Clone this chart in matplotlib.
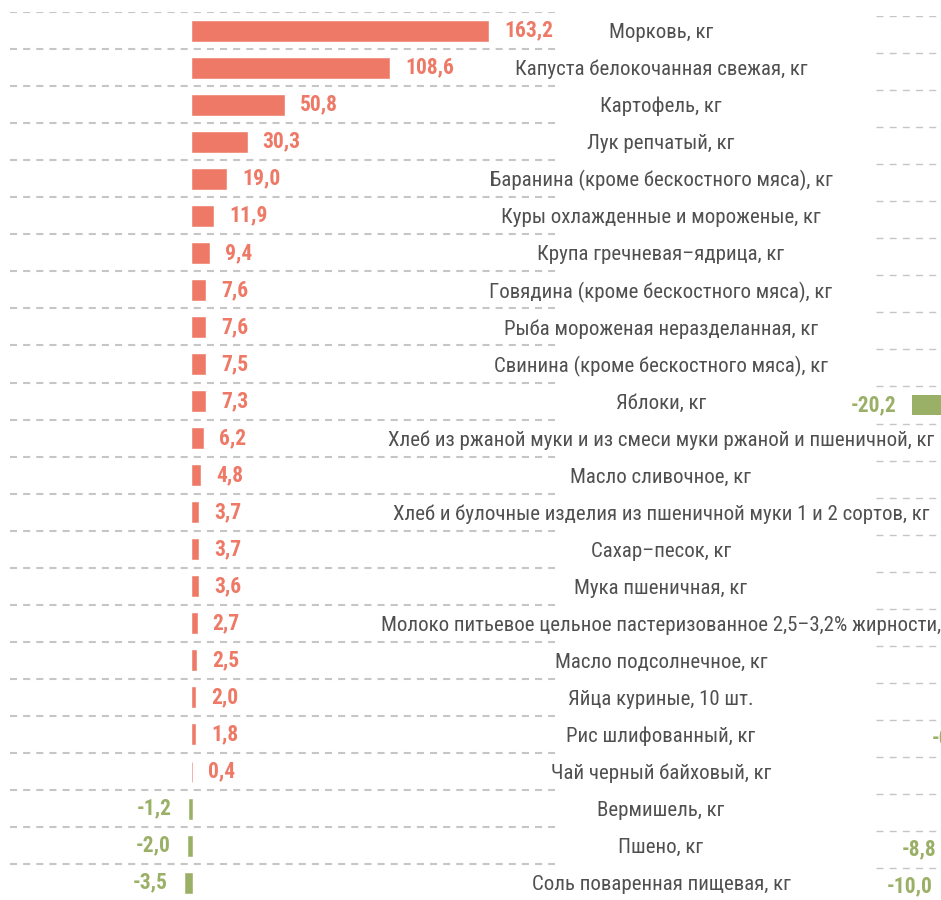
import matplotlib
matplotlib.use("Agg")
import matplotlib.pyplot as plt
from matplotlib import font_manager
from matplotlib.transforms import blended_transform_factory
import numpy as np

categories = [
    "Морковь, кг",
    "Капуста белокочанная свежая, кг",
    "Картофель, кг",
    "Лук репчатый, кг",
    "Баранина (кроме бескостного мяса), кг",
    "Куры охлажденные и мороженые, кг",
    "Крупа гречневая–ядрица, кг",
    "Говядина (кроме бескостного мяса), кг",
    "Рыба мороженая неразделанная, кг",
    "Свинина (кроме бескостного мяса), кг",
    "Яблоки, кг",
    "Хлеб из ржаной муки и из смеси муки ржаной и пшеничной, кг",
    "Масло сливочное, кг",
    "Хлеб и булочные изделия из пшеничной муки 1 и 2 сортов, кг",
    "Сахар–песок, кг",
    "Мука пшеничная, кг",
    "Молоко питьевое цельное пастеризованное 2,5–3,2% жирности,",
    "Масло подсолнечное, кг",
    "Яйца куриные, 10 шт.",
    "Рис шлифованный, кг",
    "Чай черный байховый, кг",
    "Вермишель, кг",
    "Пшено, кг",
    "Соль поваренная пищевая, кг",
]
values_left = [163.2, 108.6, 50.8, 30.3, 19.0, 11.9, 9.4, 7.6, 7.6, 7.5, 7.3, 6.2,
               4.8, 3.7, 3.7, 3.6, 2.7, 2.5, 2.0, 1.8, 0.4, -1.2, -2.0, -3.5]
# second panel, mostly outside the visible area
values_right = [np.nan] * 10 + [-20.2] + [np.nan] * 8 + [-0.1, np.nan, np.nan, -8.8, -10.0]

RED = "#ee7966"
GREEN = "#9bb067"
GRID = "#c6c6c6"
TXT = "#505050"

names = {f.name for f in font_manager.fontManager.ttflist}
narrow = None
for cand in ["Liberation Sans Narrow", "Roboto Condensed", "Open Sans Condensed", "Noto Sans"]:
    if cand in names:
        narrow = cand
        break
if narrow is None:
    narrow = "DejaVu Sans"

W, H = 941, 900
fig = plt.figure(figsize=(W / 100, H / 100), dpi=100)

n = len(categories)
row_px = 37.05
top_px = 12
ax_h = n * row_px
ax = fig.add_axes([10 / W, (H - top_px - ax_h) / H, 545 / W, ax_h / H])
ax.set_xlim(-100, 200)
ax.set_ylim(n - 0.5, -0.5)
ax.axis("off")

y = np.arange(n)
for k in range(n):
    ax.axhline(k - 0.5, color=GRID, lw=1.5, ls=(0, (3.4, 2.9)), zorder=0)

cols = [RED if v >= 0 else GREEN for v in values_left]
ax.barh(y, values_left, height=0.54, color=cols, edgecolor=cols, linewidth=0.4, zorder=2)

for i, v in enumerate(values_left):
    txt = f"{v:.1f}".replace(".", ",")
    if v >= 0:
        ax.annotate(txt, (v, i), xytext=(11.5, 0), textcoords="offset points",
                    ha="left", va="center", color=RED, fontsize=15.5,
                    fontweight="bold", family=narrow)
    else:
        ax.annotate(txt, (v, i), xytext=(-12.5, 0), textcoords="offset points",
                    ha="right", va="center", color=GREEN, fontsize=15.5,
                    fontweight="bold", family=narrow)

tr = blended_transform_factory(fig.transFigure, ax.transData)
for i, c in enumerate(categories):
    ax.annotate(c, (661 / W, i), xycoords=tr, xytext=(0, -1.5),
                textcoords="offset points", ha="center", va="center",
                color=TXT, fontsize=15, family=narrow, annotation_clip=False)

# right panel (cut off by the figure edge)
ax2 = fig.add_axes([876 / W, (H - top_px - 4 - ax_h) / H, 300 / W, ax_h / H])
ax2.set_xlim(-30.7, -30.7 + 300 / 3.45)
ax2.set_ylim(n - 0.5, -0.5)
ax2.axis("off")
for k in range(n):
    ax2.axhline(k - 0.5, color=GRID, lw=1.0, ls=(0, (5, 4.5)), zorder=0)
vr = np.array(values_right)
ax2.barh(y, np.nan_to_num(vr), height=0.54, color=GREEN, zorder=2)
for i, v in enumerate(values_right):
    if np.isnan(v):
        continue
    ax2.annotate(f"{v:.1f}".replace(".", ","), (v, i), xytext=(-11, 0),
                 textcoords="offset points", ha="right", va="center",
                 color=GREEN, fontsize=15.5, fontweight="bold", family=narrow)

fig.savefig("out.png", dpi=100)
